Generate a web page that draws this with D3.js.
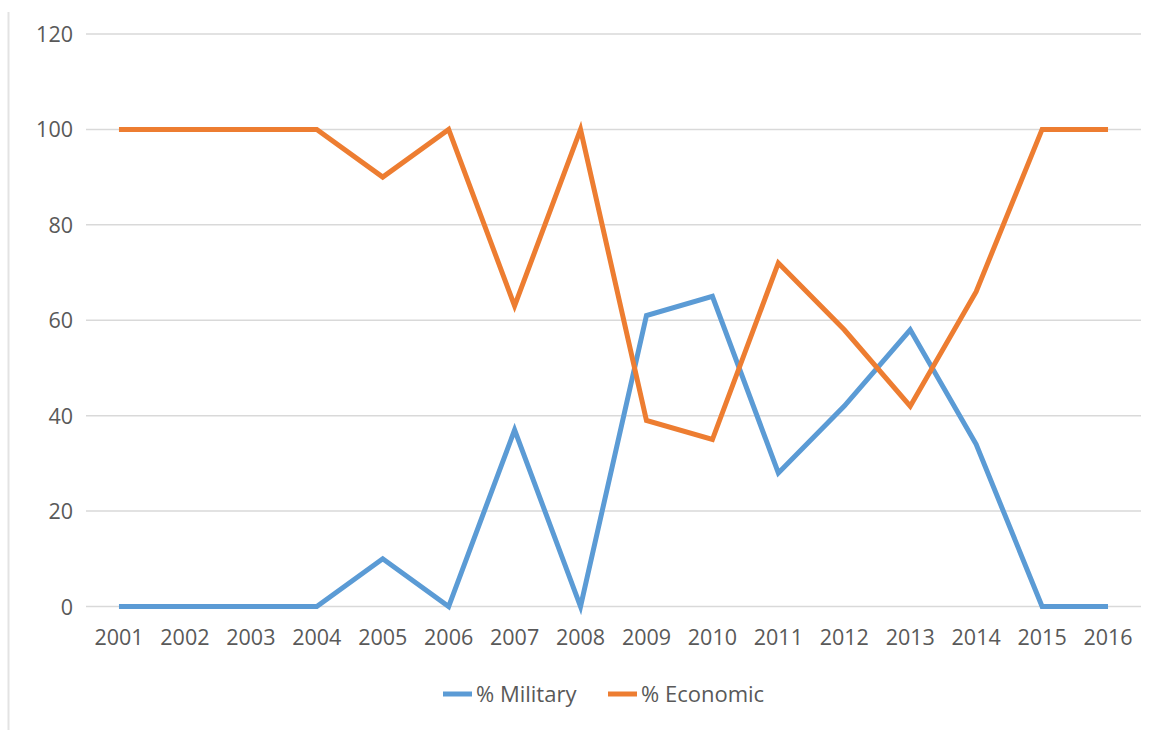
<!DOCTYPE html>
<html>
<head>
<meta charset="utf-8">
<script src="https://cdn.jsdelivr.net/npm/d3@7"></script>
<style>
  html, body { margin: 0; padding: 0; background: #fff; }
  svg { display: block; }
</style>
</head>
<body>
<svg id="chart" width="1157" height="730"></svg>
<script>
const years = ["2001","2002","2003","2004","2005","2006","2007","2008","2009","2010","2011","2012","2013","2014","2015","2016"];
const military = [0,0,0,0,10,0,37,0,61,65,28,42,58,34,0,0];
const economic = [100,100,100,100,90,100,63,100,39,35,72,58,42,66,100,100];
const yTicks = [0,20,40,60,80,100,120];
const seriesNames = ["% Military","% Economic"];
const seriesColors = ["#5B9BD5","#ED7D31"];

const svg = d3.select("#chart");
const font = "'Open Sans', 'Liberation Sans', sans-serif";
const textColor = "#595959";

// outer frame (left edge line)
svg.append("line")
  .attr("x1", 8.5).attr("x2", 8.5)
  .attr("y1", 12).attr("y2", 730)
  .attr("stroke", "#e3e3e3").attr("stroke-width", 2);

const x = d3.scaleBand().domain(years).range([86, 1141]);
const y = d3.scaleLinear().domain([0, 120]).range([606.5, 34]);

// gridlines
svg.append("g").selectAll("line").data(yTicks).join("line")
  .attr("x1", 86).attr("x2", 1141)
  .attr("y1", d => y(d)).attr("y2", d => y(d))
  .attr("stroke", "#d9d9d9").attr("stroke-width", 1.5);

// y axis labels
const yAxis = d3.axisLeft(y).tickValues(yTicks).tickSize(0).tickPadding(0);
const gy = svg.append("g").attr("transform", "translate(73,0)").call(yAxis);
gy.select(".domain").remove();
gy.selectAll("text")
  .attr("font-family", font).attr("font-size", 21.5)
  .attr("fill", textColor).attr("dy", "0.35em");

// x axis labels
const xAxis = d3.axisBottom(x).tickSize(0).tickPadding(0);
const gx = svg.append("g").attr("transform", "translate(0,630)").call(xAxis);
gx.select(".domain").remove();
gx.selectAll("text")
  .attr("font-family", font).attr("font-size", 21.5)
  .attr("fill", textColor).attr("dy", "0.71em");

// lines
const line = d3.line()
  .x((d, i) => x(years[i]) + x.bandwidth() / 2)
  .y(d => y(d));

[military, economic].forEach((vals, k) => {
  svg.append("path")
    .datum(vals)
    .attr("d", line)
    .attr("fill", "none")
    .attr("stroke", seriesColors[k])
    .attr("stroke-width", 5)
    .attr("stroke-linejoin", "miter")
    .attr("stroke-linecap", "butt");
});

// legend
const legendItems = [
  { name: seriesNames[0], color: seriesColors[0], x0: 443 },
  { name: seriesNames[1], color: seriesColors[1], x0: 608 }
];
const lg = svg.append("g");
legendItems.forEach(it => {
  lg.append("line")
    .attr("x1", it.x0).attr("x2", it.x0 + 29)
    .attr("y1", 694).attr("y2", 694)
    .attr("stroke", it.color).attr("stroke-width", 5);
  lg.append("text")
    .attr("x", it.x0 + 33).attr("y", 694)
    .attr("dy", "0.35em")
    .attr("font-family", font).attr("font-size", 22)
    .attr("fill", textColor)
    .text(it.name);
});
</script>
</body>
</html>
